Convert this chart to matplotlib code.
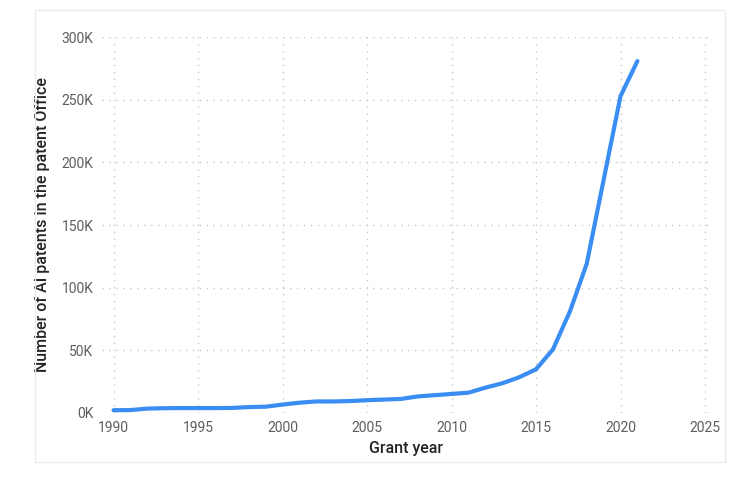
import matplotlib
matplotlib.use('Agg')
import matplotlib.pyplot as plt
from matplotlib.ticker import FuncFormatter
from matplotlib.patches import Rectangle

years = list(range(1990, 2022))
patents = [2000, 2100, 3300, 3600, 3700, 3700, 3700, 3800, 4500, 4800,
           6500, 8000, 9000, 9000, 9300, 10000, 10500, 11000, 13000, 14000,
           15000, 16000, 20000, 23500, 28300, 34700, 50600, 80700, 119000, 186000,
           253000, 281000]

xticks = [1990, 1995, 2000, 2005, 2010, 2015, 2020, 2025]
yticks = [0, 50000, 100000, 150000, 200000, 250000, 300000]

plt.rcParams['font.family'] = ['Roboto', 'DejaVu Sans']

fig = plt.figure(figsize=(7.53, 4.84), dpi=100)
fig.patches.append(Rectangle((35 / 753, 1 - 462 / 484), 690 / 753, 452 / 484,
                             transform=fig.transFigure, fill=False,
                             edgecolor='#ebebeb', linewidth=1))
ax = fig.add_axes([0.1351, 0.1473, 0.943 - 0.1351, 0.9229 - 0.1473])

ax.plot(years, patents, color='#3A8DF2', linewidth=3, solid_capstyle='round')

ax.set_xlim(1989.3, 2025.3)
ax.set_ylim(0, 300000)
ax.set_xticks(xticks)
ax.set_yticks(yticks)
ax.yaxis.set_major_formatter(FuncFormatter(lambda v, p: '%dK' % (v / 1000)))
ax.grid(True, linestyle=(0, (1, 4)), color='#c8c8c8', linewidth=1)
ax.set_axisbelow(True)
for s in ax.spines.values():
    s.set_visible(False)
ax.tick_params(length=0, colors='#605E5C', labelsize=10, pad=6)

ax.set_xlabel('Grant year', fontsize=11.5, color='#252423', labelpad=4,
              fontweight='medium')
ax.set_ylabel('Number of AI patents in the patent Office', fontsize=11.5,
              color='#252423', labelpad=8, fontweight='medium')

fig.savefig('out.png', dpi=100)
